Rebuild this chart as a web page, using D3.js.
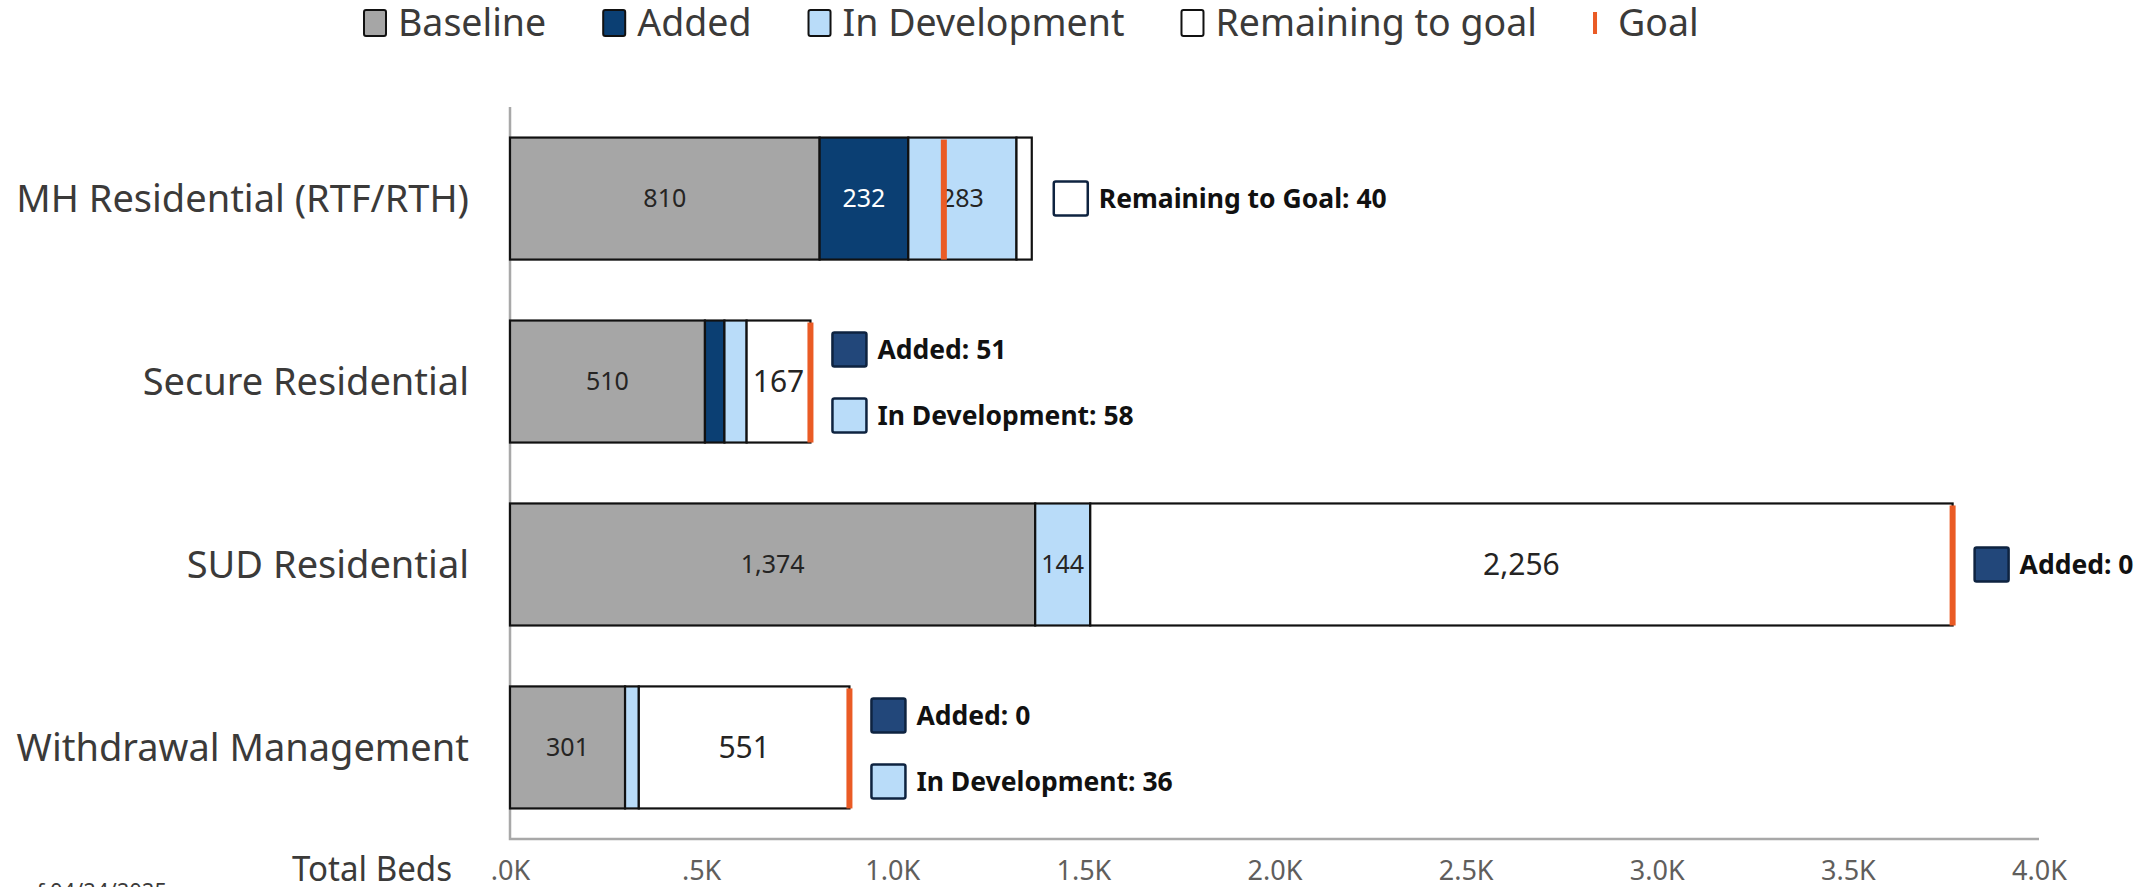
<!DOCTYPE html>
<html>
<head>
<meta charset="utf-8">
<script src="https://cdn.jsdelivr.net/npm/d3@7"></script>
<style>
  body { margin: 0; background: #fff; }
  svg { display: block; font-family: "Noto Sans", sans-serif; }
</style>
</head>
<body>
<svg id="chart" width="2149" height="887"></svg>
<script>
// data
const categories = ["MH Residential (RTF/RTH)", "Secure Residential", "SUD Residential", "Withdrawal Management"];
const baseline = [810, 510, 1374, 301];
const added = [232, 51, 0, 0];
const inDevelopment = [283, 58, 144, 36];
const remaining = [40, 167, 2256, 551];
const goal = [1135, 786, 3774, 888];

const tickValues = [0, 500, 1000, 1500, 2000, 2500, 3000, 3500, 4000];
const tickLabels = [".0K", ".5K", "1.0K", "1.5K", "2.0K", "2.5K", "3.0K", "3.5K", "4.0K"];

const keys = ["baseline", "added", "inDev", "remaining"];
const legendLabels = ["Baseline", "Added", "In Development", "Remaining to goal", "Goal"];

// callouts next to the bars: [category index, key, slot]
const callouts = [
  [0, "remaining", "mid"],
  [1, "added", "upper"],
  [1, "inDev", "lower"],
  [2, "added", "mid"],
  [3, "added", "upper"],
  [3, "inDev", "lower"]
];
const calloutNames = { added: "Added", inDev: "In Development", remaining: "Remaining to Goal" };

const colors = { baseline: "#A6A6A6", added: "#0B3F73", inDev: "#B9DCF9", remaining: "#FFFFFF" };
const calloutFill = { baseline: "#A6A6A6", added: "#22477A", inDev: "#B9DCF9", remaining: "#FFFFFF" };
const goalColor = "#EA5B25";

const rows = categories.map((c, i) => ({
  cat: c, baseline: baseline[i], added: added[i], inDev: inDevelopment[i], remaining: remaining[i], goal: goal[i]
}));

const svg = d3.select("#chart");

const x = d3.scaleLinear().domain([0, 4000]).range([510, 2039]);
const y = d3.scaleBand().domain(categories).range([107, 839]).paddingInner(0.333).paddingOuter(0.167);

// axis lines
svg.append("path")
  .attr("d", `M${x(0)},${y.range()[0]}V${y.range()[1]}H${x(4000)}`)
  .attr("fill", "none")
  .attr("stroke", "#A8A8A8")
  .attr("stroke-width", 2.5);

// x tick labels
const xAxis = svg.append("g")
  .attr("transform", `translate(0,${y.range()[1]})`)
  .call(d3.axisBottom(x).tickValues(tickValues).tickSize(0).tickPadding(22)
    .tickFormat((d, i) => tickLabels[i]));
xAxis.select(".domain").remove();
xAxis.selectAll("text")
  .attr("font-family", "Noto Sans, sans-serif")
  .attr("font-size", 27)
  .attr("fill", "#605E5C");

svg.append("text")
  .attr("x", 452).attr("y", 881)
  .attr("text-anchor", "end")
  .attr("font-size", 34)
  .attr("fill", "#3B3A39")
  .attr("textLength", 160)
  .attr("lengthAdjust", "spacingAndGlyphs")
  .text("Total Beds");

// category labels
svg.append("g").selectAll("text")
  .data(categories)
  .join("text")
  .attr("x", 469)
  .attr("y", d => y(d) + y.bandwidth() / 2)
  .attr("dy", "0.35em")
  .attr("text-anchor", "end")
  .attr("font-size", 38)
  .attr("fill", "#3B3A39")
  .text(d => d);

// stacked bars
const series = d3.stack().keys(keys)(rows);
const fmt = d3.format(",");

const layer = svg.append("g").selectAll("g")
  .data(series)
  .join("g");

layer.selectAll("rect")
  .data(s => s.map(d => ({ key: s.key, d })))
  .join("rect")
  .attr("x", o => x(o.d[0]))
  .attr("y", o => y(o.d.data.cat))
  .attr("width", o => x(o.d[1]) - x(o.d[0]))
  .attr("height", y.bandwidth())
  .attr("fill", o => colors[o.key])
  .attr("stroke", "#111")
  .attr("stroke-width", 2.2);

// values inside segments wide enough to hold them
layer.selectAll("text")
  .data(s => s.map(d => ({ key: s.key, d })).filter(o => x(o.d[1]) - x(o.d[0]) >= 40))
  .join("text")
  .attr("x", o => (x(o.d[0]) + x(o.d[1])) / 2)
  .attr("y", o => y(o.d.data.cat) + y.bandwidth() / 2)
  .attr("dy", "0.35em")
  .attr("text-anchor", "middle")
  .attr("font-size", o => o.key === "remaining" ? 30 : 25)
  .attr("fill", o => o.key === "added" ? "#FFFFFF" : "#252423")
  .text(o => fmt(o.d.data[o.key]));

// goal markers
svg.append("g").selectAll("rect")
  .data(rows)
  .join("rect")
  .attr("x", d => x(d.goal) - 3)
  .attr("y", d => y(d.cat) + 2)
  .attr("width", 6)
  .attr("height", y.bandwidth() - 2)
  .attr("fill", goalColor);

// callouts
const slotShift = { upper: -32, mid: 0, lower: 34 };
const callG = svg.append("g").selectAll("g")
  .data(callouts)
  .join("g")
  .attr("transform", ([i, key, slot]) => {
    const r = rows[i];
    const end = Math.max(r.goal, r.baseline + r.added + r.inDev + r.remaining);
    return `translate(${x(end) + 22},${y(r.cat) + y.bandwidth() / 2 + slotShift[slot]})`;
  });

callG.append("rect")
  .attr("x", 0).attr("y", -17)
  .attr("width", 34).attr("height", 34)
  .attr("rx", 2)
  .attr("fill", ([i, key]) => calloutFill[key])
  .attr("stroke", "#0E2340")
  .attr("stroke-width", 2.5);

callG.append("text")
  .attr("x", 45)
  .attr("dy", "0.35em")
  .attr("font-size", 26.5)
  .attr("font-weight", "bold")
  .attr("fill", "#111")
  .text(([i, key]) => `${calloutNames[key]}: ${fmt(rows[i][key])}`);

// legend
const legend = svg.append("g").attr("transform", "translate(363,23)");
let lx = 0;
legendLabels.forEach((label, i) => {
  const g = legend.append("g").attr("transform", `translate(${lx},0)`);
  if (label === "Goal") {
    g.append("rect").attr("x", 0).attr("y", -11).attr("width", 4).attr("height", 22).attr("fill", goalColor);
  } else {
    g.append("rect").attr("x", 1).attr("y", -13).attr("width", 22).attr("height", 26).attr("rx", 2)
      .attr("fill", colors[keys[i]]).attr("stroke", "#111").attr("stroke-width", 2);
  }
  const t = g.append("text")
    .attr("x", label === "Goal" ? 25 : 35)
    .attr("dy", "0.35em")
    .attr("font-size", 37.5)
    .attr("fill", "#3B3A39")
    .text(label);
  lx += (label === "Goal" ? 25 : 35) + t.node().getComputedTextLength() + 56;
});

// footer, cut off by the bottom edge as in the source
svg.append("text")
  .attr("x", 167).attr("y", 899)
  .attr("text-anchor", "end")
  .attr("font-size", 22)
  .attr("fill", "#3B3A39")
  .text("Data as of 04/24/2025");
</script>
</body>
</html>
